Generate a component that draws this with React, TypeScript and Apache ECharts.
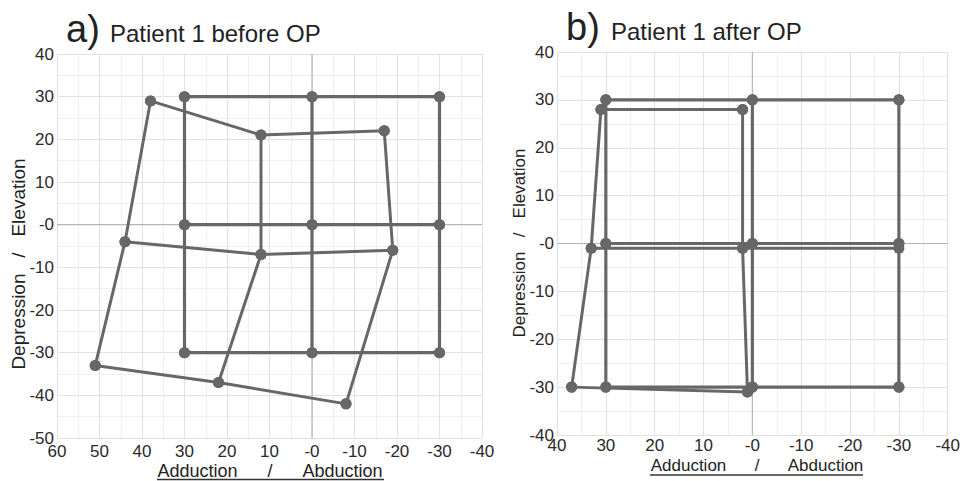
import React, { useEffect, useRef } from "react";
import * as echarts from "echarts";

// ---- Data ----
const refCols = [30, 0, -30]; // reference grid x positions
const refRows = [30, 0, -30]; // reference grid y positions

// Patient 1 before OP (rows top -> bottom, points left -> right)
const beforeTop = [[38, 29], [12, 21], [-17, 22]];
const beforeMid = [[44, -4], [12, -7], [-19, -6]];
const beforeBot = [[51, -33], [22, -37], [-8, -42]];

// Patient 1 after OP
const afterTop = [[31, 28], [2, 28]];
const afterMid = [[33, -1], [2, -1], [-30, -1]];
const afterBot = [[37, -30], [1, -31]];

const leftXRange = [-40, 60];
const leftYRange = [-50, 40];
const rightXRange = [-40, 40];
const rightYRange = [-40, 40];

const FONT = '"Liberation Sans", Arial, Helvetica, sans-serif';
const LINE = "#676767";
const NB = "\u00a0";
const sp = (n: number) => NB.repeat(n);

function refSegments(): number[][][] {
  const segs: number[][][] = [];
  refRows.forEach((y) => segs.push(refCols.map((x) => [x, y])));
  refCols.forEach((x) => segs.push(refRows.map((y) => [x, y])));
  return segs;
}

function gridSegments(rows: number[][][]): number[][][] {
  const segs: number[][][] = rows.map((r) => r);
  const nCols = Math.max(...rows.map((r) => r.length));
  for (let c = 0; c < nCols; c++) {
    const col = rows.filter((r) => r.length > c).map((r) => r[c]);
    if (col.length > 1) segs.push(col);
  }
  return segs;
}

function lineSeries(data: number[][], idx: number, width: number, z = 3) {
  return {
    type: "line",
    xAxisIndex: idx,
    yAxisIndex: idx,
    data,
    symbol: "circle",
    symbolSize: 11,
    showSymbol: true,
    lineStyle: { color: LINE, width },
    itemStyle: { color: LINE },
    z,
    silent: true,
  };
}

function zeroSeries(idx: number, xr: number[], yr: number[]) {
  return [
    {
      type: "line",
      xAxisIndex: idx,
      yAxisIndex: idx,
      data: [[0, yr[0]], [0, yr[1]]],
      showSymbol: false,
      lineStyle: { color: "#b5b5b5", width: 1.2 },
      z: 1,
      silent: true,
    },
    {
      type: "line",
      xAxisIndex: idx,
      yAxisIndex: idx,
      data: [[xr[0], 0], [xr[1], 0]],
      showSymbol: false,
      lineStyle: { color: "#b5b5b5", width: 1.2 },
      z: 1,
      silent: true,
    },
  ];
}

const fmt = (v: number) => (v === 0 ? "-0" : String(v));

function valueAxis(idx: number, range: number[], isX: boolean, margin: number) {
  return {
    type: "value",
    gridIndex: idx,
    min: range[0],
    max: range[1],
    interval: 10,
    inverse: isX,
    axisLine: { show: false },
    axisTick: { show: false },
    axisLabel: {
      fontSize: 17,
      color: "#2a2a2a",
      fontFamily: FONT,
      margin,
      formatter: fmt,
    },
    splitLine: { show: true, lineStyle: { color: "#e1e1e1", width: 1 } },
    minorTick: { show: false, splitNumber: 2 },
    minorSplitLine: { show: true, lineStyle: { color: "#efefef", width: 1 } },
  };
}

export default function App() {
  const ref = useRef<HTMLDivElement>(null);
  useEffect(() => {
    if (!ref.current) return;
    const chart = echarts.init(ref.current, undefined, { renderer: "svg" });
    const series: any[] = [];
    series.push(...zeroSeries(0, leftXRange, leftYRange));
    series.push(...zeroSeries(1, rightXRange, rightYRange));
    refSegments().forEach((s) => series.push(lineSeries(s, 0, 3.2)));
    gridSegments([beforeTop, beforeMid, beforeBot]).forEach((s) => series.push(lineSeries(s, 0, 3)));
    refSegments().forEach((s) => series.push(lineSeries(s, 1, 3.2)));
    gridSegments([afterTop, afterMid, afterBot]).forEach((s) => series.push(lineSeries(s, 1, 3)));

    const textStyle = (fontSize: number) => ({ fontFamily: FONT, fontSize, fill: "#222" });

    chart.setOption({
      animation: false,
      backgroundColor: "#ffffff",
      grid: [
        { left: 57, top: 54, width: 425, height: 384 },
        { left: 557, top: 52, width: 398, height: 383 },
      ],
      xAxis: [valueAxis(0, leftXRange, true, 5), valueAxis(1, rightXRange, true, 2)],
      yAxis: [valueAxis(0, leftYRange, false, 3), valueAxis(1, rightYRange, false, 3)],
      series,
      graphic: [
        { type: "text", x: 66, y: 29, style: { ...textStyle(38), text: "a)", textVerticalAlign: "middle" } },
        { type: "text", x: 110, y: 33.5, style: { ...textStyle(24), text: "Patient 1 before OP", textVerticalAlign: "middle" } },
        { type: "text", x: 566, y: 27, style: { ...textStyle(38), text: "b)", textVerticalAlign: "middle" } },
        { type: "text", x: 611, y: 31, style: { ...textStyle(24), text: "Patient 1 after OP", textVerticalAlign: "middle" } },
        {
          type: "text", x: 270, y: 471,
          style: { ...textStyle(18), text: "Adduction" + sp(6) + "/" + sp(6) + "Abduction", textAlign: "center", textVerticalAlign: "middle" },
        },
        { type: "line", shape: { x1: 157, y1: 479.5, x2: 384, y2: 479.5 }, style: { stroke: "#333", lineWidth: 1.3 } },
        {
          type: "text", x: 757, y: 465.5,
          style: { ...textStyle(17), text: "Adduction" + sp(6) + "/" + sp(6) + "Abduction", textAlign: "center", textVerticalAlign: "middle" },
        },
        { type: "line", shape: { x1: 650, y1: 475, x2: 863, y2: 475 }, style: { stroke: "#333", lineWidth: 1.3 } },
        {
          type: "text", x: 18, y: 264, rotation: Math.PI / 2,
          style: { ...textStyle(19), text: "Depression" + sp(3) + "/" + sp(3) + "Elevation", textAlign: "center", textVerticalAlign: "middle" },
        },
        {
          type: "text", x: 519, y: 243, rotation: Math.PI / 2,
          style: { ...textStyle(17), text: "Depression" + sp(3) + "/" + sp(3) + "Elevation", textAlign: "center", textVerticalAlign: "middle" },
        },
      ],
    });
    return () => chart.dispose();
  }, []);
  return (
    <div
      ref={ref}
      style={{ position: "fixed", left: 0, top: 0, width: 963, height: 481, background: "#fff" }}
    />
  );
}
